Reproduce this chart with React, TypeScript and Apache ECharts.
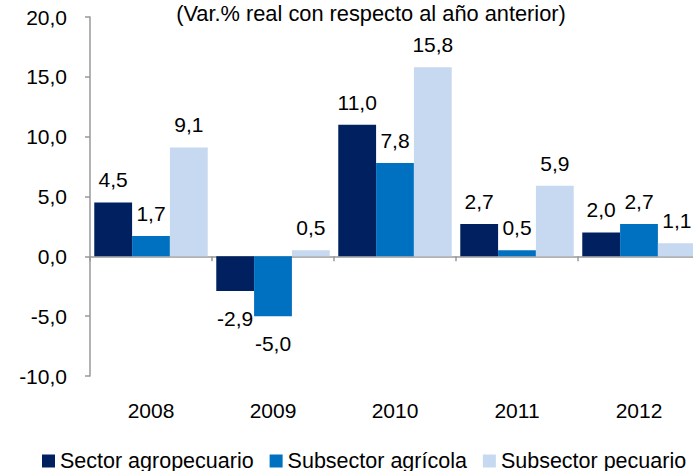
import React, { useEffect, useRef } from "react";
import * as echarts from "echarts";

const categories = ["2008", "2009", "2010", "2011", "2012"];
const sectorAgropecuario = [4.5, -2.9, 11.0, 2.7, 2.0];
const subsectorAgricola = [1.7, -5.0, 7.8, 0.5, 2.7];
const subsectorPecuario = [9.1, 0.5, 15.8, 5.9, 1.1];
const seriesNames = ["Sector agropecuario", "Subsector agrícola", "Subsector pecuario"];
const seriesColors = ["#002060", "#0070C0", "#C6D9F1"];
const titleText = "(Var.% real con respecto al año anterior)";

const FONT = "'Liberation Sans', Arial, sans-serif";
const fmt = (v: number) => v.toFixed(1).replace(".", ",");

function buildData(values: number[]) {
  return values.map((v) => ({
    value: v,
    label: {
      position: v < 0 ? "bottom" : "top",
      distance: v < 0 ? 17 : 12,
    },
  }));
}

export default function App() {
  const ref = useRef<HTMLDivElement>(null);
  useEffect(() => {
    if (!ref.current) return;
    const chart = echarts.init(ref.current, undefined, { renderer: "svg" });
    const allValues = [sectorAgropecuario, subsectorAgricola, subsectorPecuario];
    chart.setOption({
      animation: false,
      textStyle: { fontFamily: FONT },
      graphic: [
        {
          type: "text",
          x: 371,
          y: 13,
          style: {
            text: titleText,
            fontFamily: FONT,
            fontSize: 21.8,
            fill: "#000",
            align: "center",
            verticalAlign: "middle",
          },
        },
      ],
      legend: {
        data: seriesNames,
        left: 42,
        top: 450,
        padding: 0,
        icon: "rect",
        itemWidth: 13,
        itemHeight: 13,
        itemGap: 16,
        textStyle: { fontFamily: FONT, fontSize: 21.5, color: "#000", lineHeight: 21 },
      },
      grid: { left: 90, right: -7, top: 17, bottom: 95, containLabel: false, outerBoundsMode: "none" },
      xAxis: {
        type: "category",
        data: categories,
        axisLine: { onZero: true, lineStyle: { color: "#999999", width: 1.5 } },
        axisTick: { show: true, length: 5, lineStyle: { color: "#999999", width: 1.5 } },
        axisLabel: { margin: 24, fontFamily: FONT, fontSize: 21, color: "#000" },
        splitLine: { show: false },
      },
      yAxis: {
        type: "value",
        min: -10,
        max: 20,
        interval: 5,
        axisLine: { show: true, lineStyle: { color: "#999999", width: 1.5 } },
        axisTick: { show: true, length: 5, lineStyle: { color: "#999999", width: 1.5 } },
        axisLabel: { margin: 23, fontFamily: FONT, fontSize: 21, color: "#000", formatter: (v: number) => fmt(v) },
        splitLine: { show: false },
      },
      series: seriesNames.map((name, i) => ({
        name,
        type: "bar",
        data: buildData(allValues[i]),
        barGap: "0%",
        barCategoryGap: "7%",
        itemStyle: { color: seriesColors[i] },
        label: {
          show: true,
          fontFamily: FONT,
          fontSize: 21,
          color: "#000",
          formatter: (p: any) => fmt(p.value),
        },
      })),
    });
    return () => chart.dispose();
  }, []);
  return <div ref={ref} style={{ position: "absolute", left: 0, top: 0, width: 693, height: 471 }} />;
}
